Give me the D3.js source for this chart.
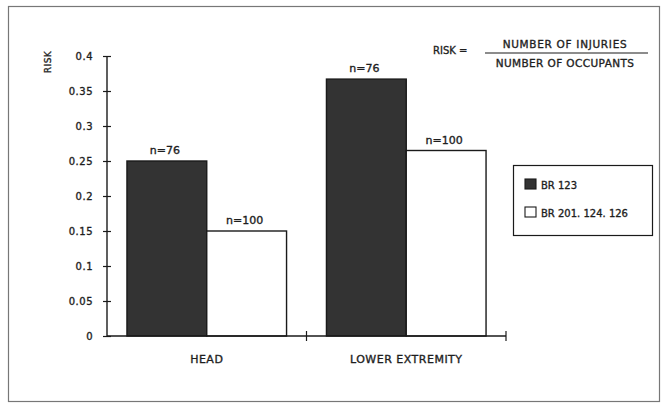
<!DOCTYPE html>
<html>
<head>
<meta charset="utf-8">
<script src="https://cdn.jsdelivr.net/npm/d3@7/dist/d3.min.js"></script>
<style>
  html, body { margin: 0; padding: 0; background: #fff; }
  svg text { font-family: "DejaVu Sans", sans-serif; fill: #1e1e1e; stroke: #1e1e1e; stroke-width: 0.35px; }
</style>
</head>
<body>
<svg id="chart" width="663" height="405"></svg>
<script>
// Injury risk by body region for two occupant groups
const categories = ["HEAD", "LOWER EXTREMITY"];
const seriesNames = ["BR 123", "BR 201. 124. 126"];
const riskBR123 = [0.25, 0.367];
const riskBR201 = [0.15, 0.265];
const sampleBR123 = ["n=76", "n=76"];
const sampleBR201 = ["n=100", "n=100"];
const yTicks = [0, 0.05, 0.1, 0.15, 0.2, 0.25, 0.3, 0.35, 0.4];
const yTickLabels = ["0", "0.05", "0.1", "0.15", "0.2", "0.25", "0.3", "0.35", "0.4"];

const svg = d3.select("#chart");
const fills = ["#333333", "#ffffff"];

// outer frame
svg.append("rect")
  .attr("x", 8.5).attr("y", 6.5).attr("width", 651).attr("height", 395)
  .attr("fill", "none").attr("stroke", "#777").attr("stroke-width", 1.2);

const plot = { left: 107, right: 506, top: 56, bottom: 336 };

const x0 = d3.scaleBand().domain(categories)
  .range([plot.left, plot.right]).paddingInner(0.2).paddingOuter(0.1);
const x1 = d3.scaleBand().domain(seriesNames).range([0, x0.bandwidth()]);
const y = d3.scaleLinear().domain([0, 0.4]).range([plot.bottom, plot.top]);

const rows = categories.map((c, i) => ({
  category: c,
  values: [
    { series: seriesNames[0], value: riskBR123[i], label: sampleBR123[i] },
    { series: seriesNames[1], value: riskBR201[i], label: sampleBR201[i] }
  ]
}));

const groups = svg.append("g").selectAll("g").data(rows).join("g")
  .attr("transform", d => `translate(${x0(d.category)},0)`);

groups.selectAll("rect").data(d => d.values).join("rect")
  .attr("x", d => x1(d.series))
  .attr("y", d => y(d.value))
  .attr("width", x1.bandwidth())
  .attr("height", d => y(0) - y(d.value))
  .attr("fill", (d, i) => fills[i])
  .attr("stroke", "#1a1a1a").attr("stroke-width", 1.4);

groups.selectAll("text").data(d => d.values).join("text")
  .attr("x", d => x1(d.series) + x1.bandwidth() / 2 - 2)
  .attr("y", d => y(d.value) - 7)
  .attr("text-anchor", "middle")
  .attr("font-size", 11)
  .text(d => d.label);

// y axis
const yAxis = svg.append("g").attr("transform", `translate(${plot.left},0)`)
  .call(d3.axisLeft(y).tickValues(yTicks).tickFormat((d, i) => yTickLabels[i])
    .tickSize(4).tickPadding(10));
yAxis.select(".domain").attr("stroke", "#1a1a1a").attr("stroke-width", 1.4)
  .attr("d", `M0,${plot.top}V${plot.bottom}`);
yAxis.selectAll(".tick line").attr("x1", -4).attr("x2", 4)
  .attr("stroke", "#1a1a1a").attr("stroke-width", 1.2);
yAxis.selectAll(".tick text").attr("font-size", 10)
  .attr("font-family", "DejaVu Sans, sans-serif").attr("fill", "#1e1e1e")
  .attr("letter-spacing", 0.5);

// x axis with ticks between categories
const xEdges = [plot.left, (x0(categories[0]) + x0.bandwidth() + x0(categories[1])) / 2, plot.right];
const xAxis = svg.append("g");
xAxis.append("line")
  .attr("x1", plot.left).attr("x2", plot.right)
  .attr("y1", y(0)).attr("y2", y(0))
  .attr("stroke", "#1a1a1a").attr("stroke-width", 1.4);
xAxis.selectAll("line.tk").data(xEdges.slice(1)).join("line").attr("class", "tk")
  .attr("x1", d => d).attr("x2", d => d)
  .attr("y1", y(0) - 5).attr("y2", y(0) + 5)
  .attr("stroke", "#1a1a1a").attr("stroke-width", 1.2);
xAxis.selectAll("text").data(categories).join("text")
  .attr("x", d => x0(d) + x0.bandwidth() / 2)
  .attr("y", y(0) + 27)
  .attr("text-anchor", "middle")
  .attr("font-size", 11)
  .attr("letter-spacing", 0.5)
  .text(d => d);

// y axis title
svg.append("text")
  .attr("transform", `translate(51,62) rotate(-90)`)
  .attr("text-anchor", "middle")
  .attr("font-size", 9)
  .attr("letter-spacing", 0.5)
  .text("RISK");

// risk definition
const formula = svg.append("g");
formula.append("text").attr("x", 433).attr("y", 54)
  .attr("font-size", 10).text("RISK =");
formula.append("text").attr("x", 565).attr("y", 48)
  .attr("text-anchor", "middle").attr("font-size", 10.5).attr("letter-spacing", 0.7)
  .text("NUMBER OF INJURIES");
formula.append("line").attr("x1", 485).attr("x2", 648).attr("y1", 53).attr("y2", 53)
  .attr("stroke", "#1a1a1a").attr("stroke-width", 1.2);
formula.append("text").attr("x", 565).attr("y", 67)
  .attr("text-anchor", "middle").attr("font-size", 10.5).attr("letter-spacing", 0.4)
  .text("NUMBER OF OCCUPANTS");

// legend
const legend = svg.append("g");
legend.append("rect").attr("x", 513.5).attr("y", 165.5).attr("width", 139).attr("height", 70)
  .attr("fill", "#fff").attr("stroke", "#1a1a1a").attr("stroke-width", 1.2);
const items = legend.selectAll("g").data(seriesNames).join("g")
  .attr("transform", (d, i) => `translate(525,${179 + i * 28})`);
items.append("rect").attr("width", 11).attr("height", 10)
  .attr("fill", (d, i) => fills[i]).attr("stroke", "#1a1a1a").attr("stroke-width", 1.1);
items.append("text").attr("x", 16).attr("y", 9.5).attr("font-size", 10)
  .text(d => d);
</script>
</body>
</html>
